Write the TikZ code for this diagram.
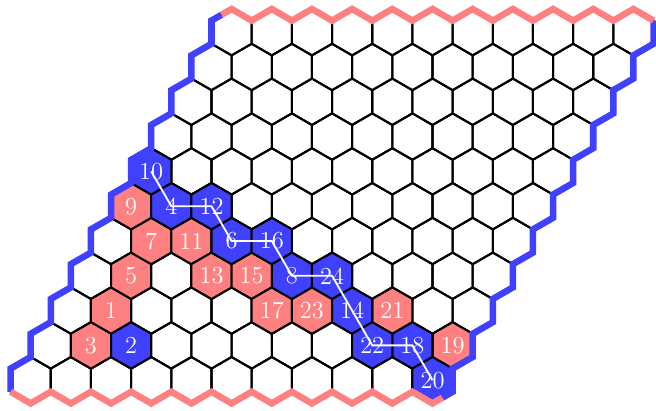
\documentclass[tikz,border=0pt]{standalone}
\usepackage{tikz}
\usetikzlibrary{shapes.geometric, calc}

\definecolor{hexblue}{RGB}{64,64,255}
\definecolor{hexred}{RGB}{255,128,128}

\begin{document}
\begin{tikzpicture}[
        hexcell/.style={regular polygon, regular polygon sides=6, shape border rotate=30,
            minimum size=0.8cm, inner sep=0pt, draw=black, line width=1pt,
            text=white, font=\large},
        redstone/.style={hexcell, fill=hexred},
        bluestone/.style={hexcell, fill=hexblue},
        blueedge/.style={draw=hexblue, line width=3.2pt},
        rededge/.style={draw=hexred, line width=3.2pt},
        winline/.style={draw=white, line width=0.9pt}
    ]
    \useasboundingbox (-3.993,0.555) rectangle (7.317,-6.531);

    % empty board
    \foreach \j in {0,...,10}
        \foreach \i in {0,...,10}
            \node[hexcell] (c-\i-\j) at ({\i*0.6928-\j*0.3464}, {-\j*0.6}) {};

    % stones
    \foreach \n/\i/\j in {1/1/8, 3/1/9, 5/1/7, 7/1/6, 9/0/5, 11/2/6,
                          13/3/7, 15/4/7, 17/5/8, 19/10/9, 21/8/8, 23/6/8}
        \node[redstone] (m\n) at (c-\i-\j) {\n};
    \foreach \n/\i/\j in {2/2/9, 4/1/5, 6/3/6, 8/5/7, 10/0/4, 12/2/5,
                          14/7/8, 16/4/6, 18/9/9, 20/10/10, 22/8/9, 24/6/7}
        \node[bluestone] (m\n) at (c-\i-\j) {\n};

    % borders
    \draw[blueedge] ([shift={(120:0.3464)}]c-0-0.center)
        foreach \j in {0,...,10} {
            -- ([shift={(150:0.4)}]c-0-\j.center) -- ([shift={(210:0.4)}]c-0-\j.center)
        };
    \draw[rededge] ([shift={(210:0.4)}]c-0-10.center)
        foreach \i in {0,...,9} {
            -- ([shift={(270:0.4)}]c-\i-10.center) -- ([shift={(330:0.4)}]c-\i-10.center)
        }
        -- ([shift={(270:0.4)}]c-10-10.center) -- ([shift={(300:0.3464)}]c-10-10.center);
    \draw[blueedge] ([shift={(300:0.3464)}]c-10-10.center)
        foreach \j in {10,...,0} {
            -- ([shift={(330:0.4)}]c-10-\j.center) -- ([shift={(30:0.4)}]c-10-\j.center)
        };
    \draw[rededge] ([shift={(30:0.4)}]c-10-0.center)
        foreach \i in {10,...,1} {
            -- ([shift={(90:0.4)}]c-\i-0.center) -- ([shift={(150:0.4)}]c-\i-0.center)
        }
        -- ([shift={(90:0.4)}]c-0-0.center) -- ([shift={(120:0.3464)}]c-0-0.center);

    % winning chain
    \draw[winline] (m10.center) -- (m4.center) -- (m12.center) -- (m6.center)
        -- (m16.center) -- (m8.center) -- (m24.center) -- (m14.center)
        -- (m22.center) -- (m18.center) -- (m20.center);
\end{tikzpicture}
\end{document}
